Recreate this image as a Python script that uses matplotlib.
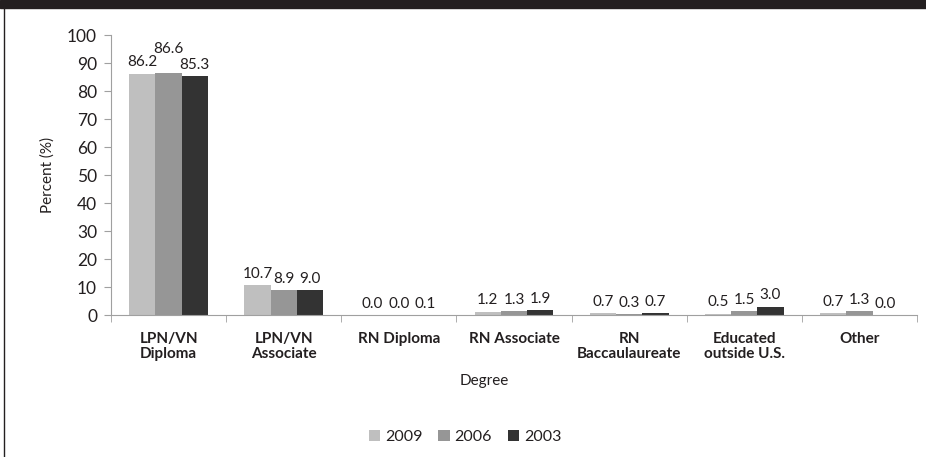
import matplotlib
matplotlib.use('Agg')
import matplotlib.pyplot as plt
import numpy as np
from matplotlib.patches import Rectangle

plt.rcParams['font.family'] = ['Lato', 'DejaVu Sans']

# data
categories = ["LPN/VN\nDiploma", "LPN/VN\nAssociate", "RN Diploma", "RN Associate",
              "RN\nBaccaulaureate", "Educated\noutside U.S.", "Other"]
years = ["2009", "2006", "2003"]
pct_2009 = [86.2, 10.7, 0.0, 1.2, 0.7, 0.5, 0.7]
pct_2006 = [86.6, 8.9, 0.0, 1.3, 0.3, 1.5, 1.3]
pct_2003 = [85.3, 9.0, 0.1, 1.9, 0.7, 3.0, 0.0]
series = [pct_2009, pct_2006, pct_2003]

colors = ["#bfbfbf", "#969696", "#333333"]
ink = "#231f20"
W, H = 926, 457
fig = plt.figure(figsize=(W / 100, H / 100), dpi=100)

# axes placed in pixel terms: y=0 at 315px, y=100 at 35px, x from 111px to 917px
step = 117.0
left, right, y0, y100 = 111, 917, 315, 35
ax = fig.add_axes([left / W, 1 - y0 / H, (right - left) / W, (y0 - y100) / H])

x = np.arange(len(categories))
bw = 0.228
for k, (vals, c, yr) in enumerate(zip(series, colors, years)):
    xs = x + (k - 1) * bw
    ax.bar(xs, vals, width=bw, color=c, label=yr, zorder=2)
    for i, (xi, v) in enumerate(zip(xs, vals)):
        lift = 9 if (i == 0 and k == 1) else 0  # middle label pushed up, as in the original
        ax.annotate(f"{v:.1f}", (xi, v), xytext=(0, 3 + lift), textcoords="offset points",
                    ha="center", va="bottom", fontsize=11, color=ink)

ax.set_ylim(0, 100)
ax.set_xlim(-0.5, -0.5 + (right - left) / step)
ax.set_yticks(range(0, 101, 10))
ax.set_xticks(x)
ax.set_xticklabels(categories, fontsize=11, fontweight="bold", color=ink, linespacing=1.15)
ax.set_xticks(np.arange(len(categories) + 1) - 0.5, minor=True)
ax.tick_params(axis="x", which="major", length=0, pad=12)
ax.tick_params(axis="x", which="minor", length=5, color="#a0a0a0", direction="out")
ax.tick_params(axis="y", length=5, color="#a0a0a0", labelsize=12.5, labelcolor=ink, pad=5)
for s in ["top", "right"]:
    ax.spines[s].set_visible(False)
for s in ["left", "bottom"]:
    ax.spines[s].set_color("#a0a0a0")

fig.text(48 / W, 1 - 175 / H, "Percent (%)", rotation=90, ha="center", va="center",
         fontsize=11, color=ink)
fig.text(484 / W, 1 - 381 / H, "Degree", ha="center", va="center", fontsize=11, color=ink)

leg = fig.legend(loc="center", bbox_to_anchor=(465 / W, 1 - 437 / H), ncol=3, frameon=False,
                 fontsize=11.5, handlelength=0.7, handleheight=0.7, handletextpad=0.3,
                 columnspacing=1.0)
for t in leg.get_texts():
    t.set_color(ink)

# header bar and left frame line
fig.patches.append(Rectangle((0, 1 - 8 / H), 1, 8 / H, transform=fig.transFigure,
                             color=ink, zorder=5))
fig.add_artist(plt.Line2D([4 / W, 4 / W], [0, 1 - 8 / H], transform=fig.transFigure,
                          color=ink, lw=1.0))

fig.savefig("out.png", dpi=100)
